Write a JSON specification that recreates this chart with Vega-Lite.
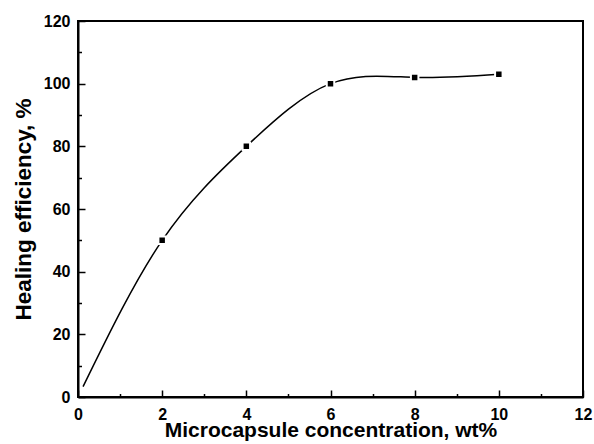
{
  "$schema": "https://vega.github.io/schema/vega-lite/v6.json",
  "width": 505,
  "height": 376,
  "autosize": "none",
  "padding": {"left": 78, "top": 21, "right": 11, "bottom": 47},
  "background": "white",
  "config": {
    "view": {"stroke": "black", "strokeWidth": 2},
    "axis": {
      "domainColor": "black", "domainWidth": 2, "tickColor": "black", "tickWidth": 1.5,
      "labelFont": "Liberation Sans", "labelFontWeight": "bold", "labelFontSize": 16, "labelColor": "black",
      "titleFont": "Liberation Sans", "titleFontWeight": "bold", "titleFontSize": 21, "titleColor": "black",
      "grid": false
    }
  },
  "datasets": {
    "curve": [
      {"x": 0.12, "y": 3.3},
      {"x": 2, "y": 50},
      {"x": 4, "y": 80},
      {"x": 6, "y": 100},
      {"x": 8, "y": 102},
      {"x": 10, "y": 103}
    ],
    "pts": [
      {"x": 2, "y": 50},
      {"x": 4, "y": 80},
      {"x": 6, "y": 100},
      {"x": 8, "y": 102},
      {"x": 10, "y": 103}
    ]
  },
  "resolve": {"axis": {"x": "independent", "y": "independent"}},
  "layer": [
    {
      "data": {"name": "curve"},
      "mark": {"type": "line", "interpolate": "natural", "color": "black", "strokeWidth": 1.5},
      "encoding": {
        "x": {"field": "x", "type": "quantitative", "scale": {"domain": [0, 12], "nice": false},
          "axis": {"orient": "bottom", "title": "Microcapsule concentration, wt%", "values": [0,2,4,6,8,10,12],
            "tickSize": -7, "labelPadding": 16, "titlePadding": -3, "labelFlush": false}},
        "y": {"field": "y", "type": "quantitative", "scale": {"domain": [0, 120], "nice": false},
          "axis": {"orient": "left", "title": "Healing efficiency, %", "titleFontSize": 22.5, "values": [0,20,40,60,80,100,120],
            "tickSize": -7, "labelPadding": 15, "titlePadding": 8, "labelFlush": false}}
      }
    },
    {
      "data": {"name": "pts"},
      "mark": {"type": "point", "shape": "square", "filled": true, "color": "black", "size": 56, "stroke": "white", "strokeWidth": 2, "opacity": 1},
      "encoding": {
        "x": {"field": "x", "type": "quantitative",
          "axis": {"orient": "bottom", "title": null, "values": [1,3,5,7,9,11], "labels": false, "domain": false, "tickSize": -3.5}},
        "y": {"field": "y", "type": "quantitative",
          "axis": {"orient": "left", "title": null, "values": [10,30,50,70,90,110], "labels": false, "domain": false, "tickSize": -3.5}}
      }
    }
  ]
}
